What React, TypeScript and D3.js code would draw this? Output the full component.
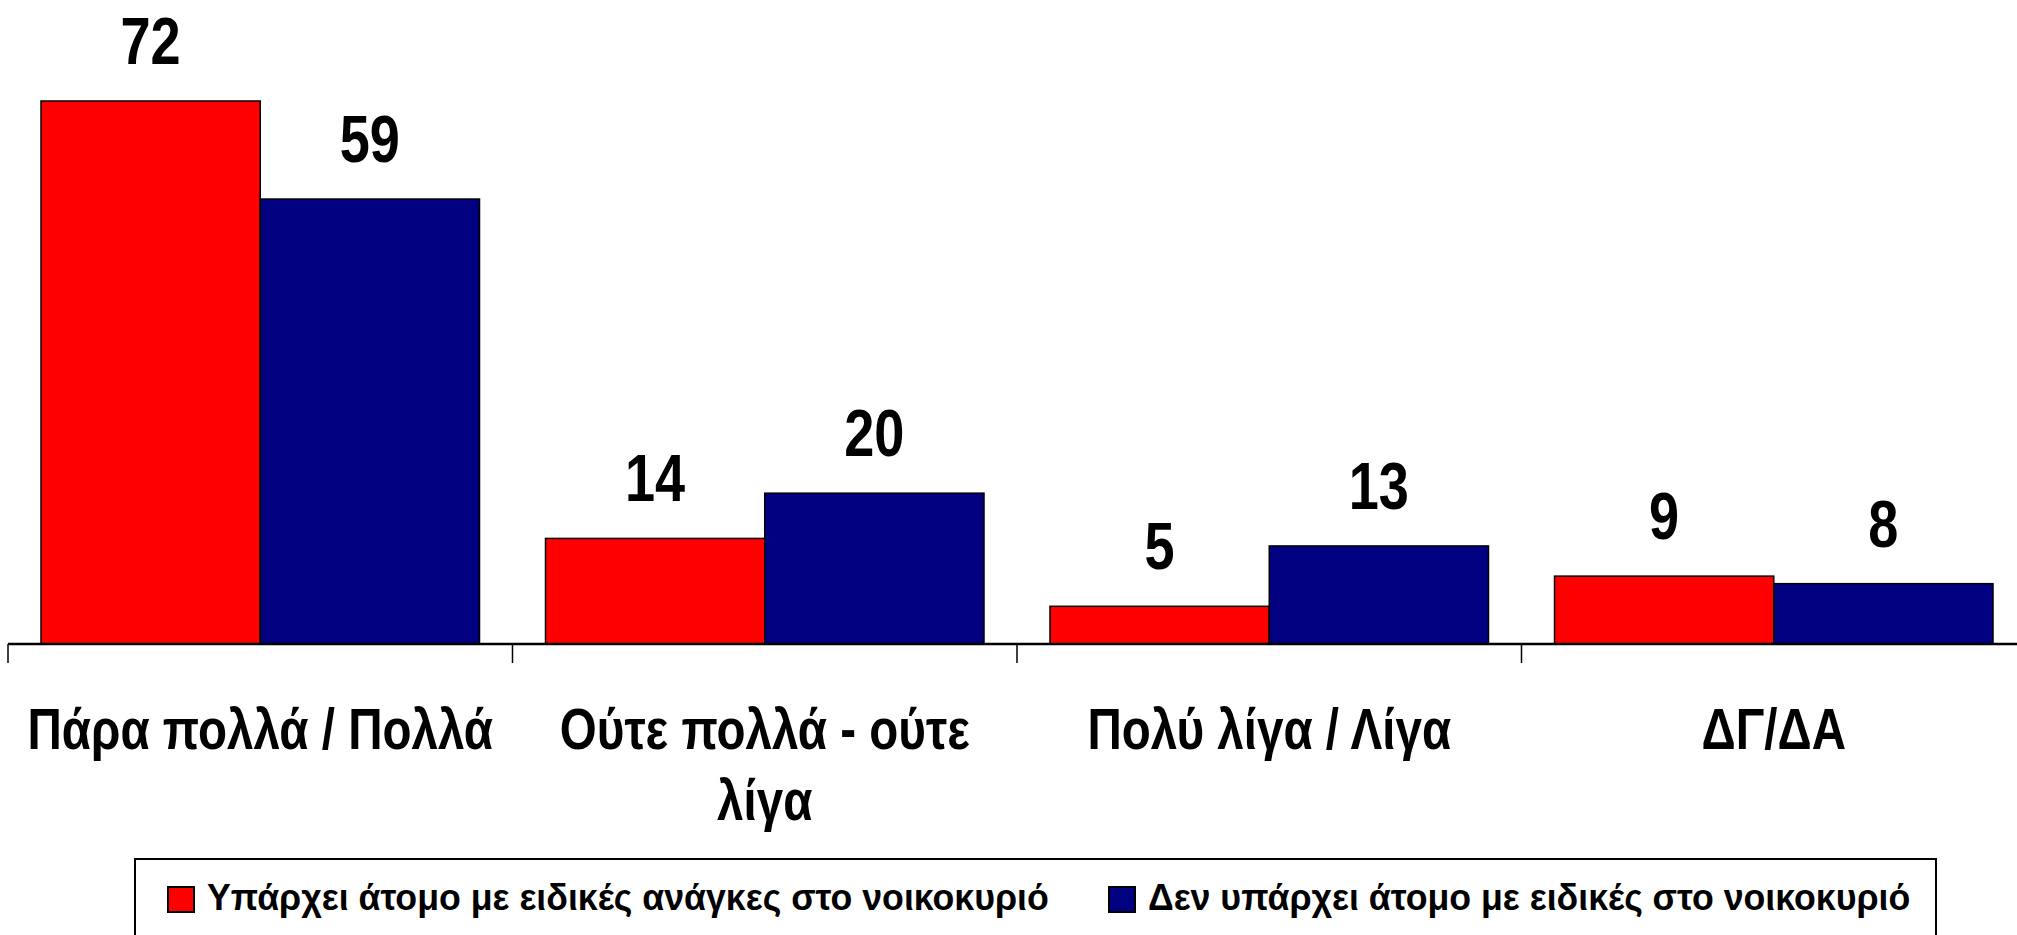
import React from 'react'
import * as d3 from 'd3'

const categories = ['Πάρα πολλά / Πολλά', 'Ούτε πολλά - ούτε λίγα', 'Πολύ λίγα / Λίγα', 'ΔΓ/ΔΑ']
const seriesNames = ['Υπάρχει άτομο με ειδικές ανάγκες στο νοικοκυριό', 'Δεν υπάρχει άτομο με ειδικές στο νοικοκυριό']
const withNeeds = [72, 14, 5, 9]
const withoutNeeds = [59, 20, 13, 8]
const colors = ['#FF0000', '#000080']

const W = 2017
const H = 935
const FONT = '"Liberation Sans Narrow", "Arial Narrow", "Liberation Sans", Arial, sans-serif'
// no narrow face installed, so squeeze the text horizontally
const NARROW = 0.82
const LEGEND_NARROW = 0.965

// split a label into lines that fit the band width
function wrap(text: string, maxW: number, font: string) {
  const ctx = document.createElement('canvas').getContext('2d')
  if (!ctx) return [text]
  ctx.font = font
  const words = text.split(' ')
  const lines: string[] = []
  let cur = ''
  words.forEach(w => {
    const test = cur ? cur + ' ' + w : w
    if (ctx.measureText(test).width > maxW && cur) {
      lines.push(cur)
      cur = w
    } else cur = test
  })
  if (cur) lines.push(cur)
  return lines
}

const App = () => {
  var axisY = 644
  var left = 8
  var band = 504.5

  const x0 = d3.scaleBand<string>()
    .domain(categories)
    .range([left, left + band * categories.length])
    .paddingInner(0)
    .paddingOuter(0)

  const x1 = d3.scaleBand<number>()
    .domain([0, 1])
    .range([33, band - 33])
    .padding(0)

  const y = d3.scaleLinear()
    .domain([0, 72])
    .range([axisY, 101])

  const series = [withNeeds, withoutNeeds]

  const bars = categories.map((c, i) => (
    <g key={c}>
      {series.map((s, j) => {
        const bx = (x0(c) as number) + (x1(j) as number)
        return (
          <g key={j}>
            <rect x={bx} y={y(s[i])} width={x1.bandwidth()} height={axisY - y(s[i])}
              fill={colors[j]} stroke="#000" strokeWidth={1.5}/>
            <text transform={`translate(${bx + x1.bandwidth() / 2},${y(s[i]) - 37}) scale(${NARROW},1)`}
              textAnchor="middle" fontFamily={FONT} fontWeight="bold" fontSize={66} fill="#000">{s[i]}</text>
          </g>
        )
      })}
    </g>
  ))

  const ticks = d3.range(categories.length + 1).map(i => {
    const tx = left + band * i
    return <line key={i} x1={tx} x2={tx} y1={axisY} y2={663} stroke="#000" strokeWidth={1.5}/>
  })

  const labels = categories.map(c => {
    const lines = wrap(c, (band - 20) / NARROW, 'bold 58px ' + FONT)
    return (
      <text key={c} transform={`translate(${(x0(c) as number) + band / 2},0) scale(${NARROW},1)`}
        textAnchor="middle" fontFamily={FONT} fontWeight="bold" fontSize={58} fill="#000">
        {lines.map((l, k) => (
          <tspan key={k} x={0} y={749 + k * 71}>{l}</tspan>
        ))}
      </text>
    )
  })

  const legendX = [168, 1109]

  return (
    <svg width={W} height={H} style={{position: 'absolute', left: 0, top: 0}}>
      <rect width={W} height={H} fill="#fff"/>
      <g>{ bars }</g>
      <line x1={left} x2={W} y1={axisY} y2={axisY} stroke="#000" strokeWidth={2.5}/>
      <g>{ ticks }</g>
      <g>{ labels }</g>
      <rect x={135} y={859} width={1801} height={100} fill="#fff" stroke="#000" strokeWidth={2}/>
      {seriesNames.map((n, j) => (
        <g key={n}>
          <rect x={legendX[j]} y={887} width={26} height={25} fill={colors[j]} stroke="#000" strokeWidth={2}/>
          <text transform={`translate(${legendX[j] + 39},910) scale(${LEGEND_NARROW},1)`}
            fontFamily={FONT} fontWeight="bold" fontSize={37} fill="#000">{n}</text>
        </g>
      ))}
    </svg>
  )
}

export default App
